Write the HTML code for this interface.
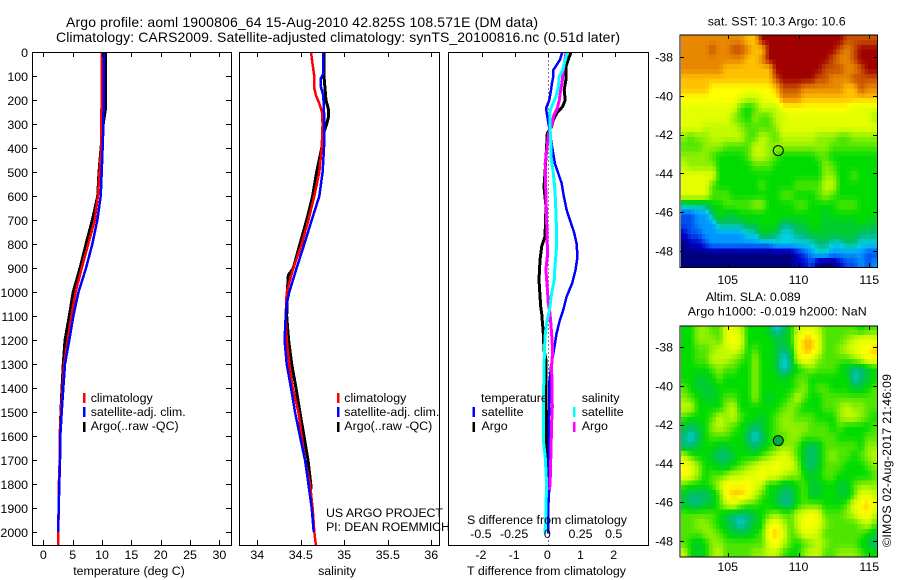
<!DOCTYPE html>
<html>
<head>
<meta charset="utf-8">
<title>Argo profile 1900806_64</title>
<style>
html,body{margin:0;padding:0;background:#fff;}
svg{display:block;font-family:"Liberation Sans",sans-serif;font-size:12.4px;fill:#000;}
.title{font-size:14px;}
</style>
</head>
<body>
<svg id="chart" width="900" height="580" viewBox="0 0 900 580" xmlns="http://www.w3.org/2000/svg">
  <defs>
    <clipPath id="clip-t"><rect x="32" y="52" width="200" height="494"/></clipPath>
    <clipPath id="clip-s"><rect x="239" y="52" width="201" height="494"/></clipPath>
    <clipPath id="clip-d"><rect x="448" y="52" width="201" height="494"/></clipPath>
    <clipPath id="clip-m1"><rect x="681" y="35" width="197" height="232"/></clipPath>
    <clipPath id="clip-m2"><rect x="681" y="326" width="197" height="231"/></clipPath>
  </defs>

  <text class="title" x="66" y="27" textLength="472">Argo profile: aoml 1900806_64 15-Aug-2010 42.825S 108.571E (DM data)</text>
  <text class="title" x="56" y="42" textLength="564">Climatology: CARS2009. Satellite-adjusted climatology: synTS_20100816.nc (0.51d later)</text>

  <g id="panel-t" clip-path="url(#clip-t)"></g>
  <g id="panel-s" clip-path="url(#clip-s)"></g>
  <g id="panel-d" clip-path="url(#clip-d)"></g>
  <g id="map1" clip-path="url(#clip-m1)"></g>
  <g id="map2" clip-path="url(#clip-m2)"></g>
  <g id="axes"></g>

  <rect x="32.5" y="52.5" width="199" height="493" fill="none" stroke="#000" shape-rendering="crispEdges"/>
  <rect x="239.5" y="52.5" width="200" height="493" fill="none" stroke="#000" shape-rendering="crispEdges"/>
  <rect x="448.5" y="52.5" width="200" height="493" fill="none" stroke="#000" shape-rendering="crispEdges"/>
  <rect x="680" y="35" width="197.5" height="232.5" fill="none" stroke="#000" shape-rendering="crispEdges"/>
  <rect x="680" y="326" width="197.5" height="231" fill="none" stroke="#000" shape-rendering="crispEdges"/>

  <text x="129" y="575" text-anchor="middle">temperature (deg C)</text>
  <text x="337" y="575" text-anchor="middle">salinity</text>
  <text x="467" y="575" textLength="159">T difference from climatology</text>
  <text x="467" y="524" textLength="160">S difference from climatology</text>

  <rect x="83" y="393" width="2.5" height="10" fill="#ff0000"/>
  <text x="90.7" y="402">climatology</text>
  <rect x="83" y="407" width="2.5" height="10" fill="#0000ff"/>
  <text x="90.7" y="416" textLength="95">satellite-adj. clim.</text>
  <rect x="83" y="422" width="2.5" height="10" fill="#000"/>
  <text x="90.7" y="430" textLength="88">Argo(..raw -QC)</text>

  <rect x="337" y="393" width="2.5" height="10" fill="#ff0000"/>
  <text x="344.3" y="402">climatology</text>
  <rect x="337" y="407" width="2.5" height="10" fill="#0000ff"/>
  <text x="344.3" y="416" textLength="95">satellite-adj. clim.</text>
  <rect x="337" y="422" width="2.5" height="10" fill="#000"/>
  <text x="344.3" y="430" textLength="88">Argo(..raw -QC)</text>

  <text x="326" y="517" textLength="117">US ARGO PROJECT</text>
  <text x="326" y="531" textLength="124">PI: DEAN ROEMMICH</text>

  <text x="481" y="402">temperature</text>
  <rect x="472.5" y="407" width="2.5" height="10" fill="#0000ff"/>
  <text x="481.5" y="416">satellite</text>
  <rect x="472.5" y="422" width="2.5" height="10" fill="#000"/>
  <text x="481.5" y="430">Argo</text>
  <text x="581.7" y="402">salinity</text>
  <rect x="573" y="407" width="2.5" height="10" fill="#00ffff"/>
  <text x="581.7" y="416">satellite</text>
  <rect x="573" y="422" width="2.5" height="10" fill="#ff00ff"/>
  <text x="581.7" y="430">Argo</text>

  <text x="707.7" y="25.7" textLength="138">sat. SST: 10.3 Argo: 10.6</text>
  <text x="705.7" y="301" textLength="95">Altim. SLA: 0.089</text>
  <text x="687.7" y="315.7" textLength="179">Argo h1000: -0.019 h2000: NaN</text>
  <text transform="translate(891,547) rotate(-90)" textLength="173">©IMOS 02-Aug-2017 21:46:09</text>
</svg>

<script>
// ---------- profile data ----------
const tempBlackDepth = [0,240,300,400,500,600,700,800,900,1000,1050,1100,1200,1300,1400,1500,1600,1670];
const tempBlack = [10.56,10.56,10.2,9.83,9.49,9.26,8.35,7.27,6.25,5.1,4.75,4.43,3.7,3.4,3.19,3.0,2.85,2.85];
const tempRedDepth = [0,120,300,400,600,700,800,900,1000,1100,1200,1300,1400,1500,1600,1700,1800,1900,2000,2060];
const tempRed = [9.95,9.95,9.9,9.85,9.3,8.75,7.67,6.54,5.5,4.77,4.15,3.55,3.3,3.0,2.79,2.79,2.66,2.62,2.55,2.55];
const tempBlueDepth = [0,300,400,500,600,700,800,900,1000,1100,1200,1300,1400,1500,1600,1700,1800,1900,2000];
const tempBlue = [10.34,10.24,10.1,9.95,9.78,9.2,8.35,7.27,6.0,5.11,4.43,3.7,3.4,3.13,2.9,2.85,2.73,2.62,2.5];

const salBlackDepth = [0,100,200,240,270,300,350,400,500,600,700,800,900,930,1000,1100,1200,1300,1400,1500,1600,1700,1820];
const salBlack = [34.767,34.767,34.79,34.82,34.817,34.797,34.751,34.74,34.682,34.636,34.567,34.49,34.414,34.356,34.345,34.338,34.36,34.395,34.445,34.49,34.537,34.583,34.621];
const salRedDepth = [0,50,100,150,180,220,250,300,400,500,600,700,800,900,950,1000,1100,1200,1300,1400,1500,1600,1700,1800,1900,2000,2060];
const salRed = [34.617,34.636,34.655,34.655,34.675,34.72,34.744,34.751,34.74,34.713,34.655,34.587,34.51,34.414,34.376,34.338,34.326,34.338,34.368,34.407,34.472,34.51,34.548,34.606,34.636,34.655,34.675];
const salBlueDepth = [0,90,110,140,180,250,300,400,500,600,700,800,900,1000,1050,1100,1200,1300,1400,1500,1600,1700,1800,1900,2000];
const salBlue = [34.759,34.759,34.728,34.728,34.759,34.767,34.77,34.767,34.751,34.713,34.625,34.54,34.452,34.368,34.338,34.326,34.314,34.338,34.387,34.433,34.49,34.548,34.587,34.625,34.648];

const dTSatDepth = [0,32,53,74,101,129,157,199,234,268,310,366,407,463,505,546,602,657,706,748,796,852,908,963,1019,1075,1116,1172,1242,1311,1381,1520,1659,1812,1895,2006];
const dTSat = [0.42,0.35,0.25,0.15,0.15,0.11,0.08,0.03,-0.07,-0.03,0.02,0.08,0.13,0.2,0.3,0.4,0.47,0.55,0.67,0.77,0.85,0.88,0.82,0.72,0.55,0.45,0.35,0.25,0.17,0.08,0.03,0.02,0.01,0.03,0,0];
const dTArgoDepth = [0,32,60,115,157,199,227,254,282,310,338,393,505,560,644,769,810,866,949,1061,1089,1172,1242,1283,1367,1450,1547,1686,1812];
const dTArgo = [0.68,0.6,0.53,0.53,0.48,0.51,0.43,0.25,0.15,0.1,-0.03,-0.05,-0.1,-0.13,-0.07,-0.1,-0.2,-0.25,-0.28,-0.23,-0.2,-0.15,-0.13,-0.07,-0.07,-0.07,-0.05,-0.05,-0.02];
const dSSatDepth = [0,32,74,101,143,185,227,247,310,366,435,505,574,630,713,824,894,949,1005,1061,1088,1130,1186,1269,1366,1450,1519,1617,1686,1797,1922,2006];
const dSSat = [0.143,0.128,0.108,0.083,0.075,0.058,0.025,0.013,0.013,0.018,0.02,0.038,0.05,0.055,0.06,0.06,0.05,0.045,0.025,0.013,0.003,-0.013,-0.025,-0.03,-0.033,-0.038,-0.038,-0.038,-0.023,-0.013,-0.018,-0.025];
const dSArgoDepth = [0,32,74,122,157,199,234,261,303,338,393,463,532,602,685,769,838,908,977,1047,1088,1172,1242,1311,1394,1478,1547,1659,1770,1825];
const dSArgo = [0.133,0.125,0.113,0.105,0.093,0.083,0.068,0.043,0.025,0.003,-0.008,-0.023,-0.02,-0.018,-0.013,-0.01,-0.005,-0.018,-0.008,0,0.013,0.025,0.033,0.025,0.028,0.03,0.025,0.02,0.015,0.01];

// ---------- tick labels ----------
const depthTicks = [0,100,200,300,400,500,600,700,800,900,1000,1100,1200,1300,1400,1500,1600,1700,1800,1900,2000];
const tempTicks = [0,5,10,15,20,25,30];
const salTicks = [34,34.5,35,35.5,36];
const dTTicks = [-2,-1,0,1,2];
const dSTicks = [-0.5,-0.25,0,0.25,0.5];
const lonTicks = [105,110,115];
const latTicks = [-38,-40,-42,-44,-46,-48];

// ---------- map data: one character per half-degree cell, colour level 0..g ----------
const levelKeys = '0123456789abcdefg';
const levelColors = ['#00007f','#0000c8','#0050f0','#0098ff','#00d0e0','#00bc78','#00cc30','#00dc00','#4ee600','#90f000','#c4fa00','#e4ff00','#ffff00','#ffc000','#e88800','#c85000','#a00000'];
const sstGrid = [
"eeeeeeeeeddggggggggggggfffff",
"eeeefeeffeddggggggggggfefggg",
"eeeeeeeeeddegggggggggfeefggg",
"eeeeeedddddddgggggggfffeefgg",
"dddddddddddddfgggggffeeeffff",
"ddddcccccccccdfffeeeeeeddfee",
"ccccccccbaabcceeeddddddddddd",
"bbbbbbbb878aaaccccccccccbbbb",
"bbbbbbb987988aabbbbbbbbbbbb9",
"bbbaaaaa988889bbbbbbbbbbbbbb",
"9899aaaaa88a98aaaaa999889999",
"8889998888aa9999999998888888",
"9999877778aa9877777887777777",
"a999977777888777777798777777",
"bbbbb77777777777777799778777",
"bbbb8777777877778888aa777777",
"bbbb888777777788777898777777",
"5555778888997777887777888777",
"2233576677777777777767777777",
"2233355556677755667766666766",
"1223333334466544556666666555",
"0112333333333444444554455444",
"0000000000000000123443333322",
"0000000000000000112000122323"
];
const slaGrid = [
"7799 88bb a777 6457 abba 8888 8788",
"7799 98bc b777 7667 bddb 8889 abbb",
"7788 9aab a787 7656 bddb 889a bccd",
"7788 aaa9 8797 7645 acb9 8888 9acc",
"7777 8988 7797 7645 7898 8876 5567",
"7766 7877 7797 7767 8877 7777 4567",
"8766 6777 7797 7777 8978 8777 6678",
"9876 6788 7797 6778 a877 8888 8888",
"aa77 779a 7777 7789 8777 889a 9988",
"8777 8a9a 8776 7899 8887 779a a987",
"6567 9a98 7656 7899 9988 8787 7778",
"5457 8887 7545 7889 9888 8877 7788",
"5567 7667 7656 7899 8656 8888 8799",
"a877 6556 7778 9aba 8656 8988 789a",
"cb97 7667 89ab bcbb 9656 8887 7789",
"cb97 889a abbc bba9 9767 8877 7778",
"8777 8acc ccba 7766 7866 7766 8999",
"6555 68cd dca8 7655 7866 7766 8bba",
"6556 68ab 9887 7655 7888 7778 bcdb",
"8888 8765 5567 8988 abcb 8889 acca",
"8899 8765 4567 bca8 accb 9888 89a8",
"8889 9876 6678 cdb8 9bba 8888 8876",
"8767 9988 8888 bca8 789a 9888 8765",
"a767 9a88 8899 aa87 79aa 8899 9877"
];
const floatLon = [108.571];
const floatLat = [-42.825];
const gridLon0 = [101.67];
const gridLat0 = [-36.87];
const gridStep = [0.5];

// ---------- axis functions ----------
const NS = 'http://www.w3.org/2000/svg';
const yP = p => 52.3 + p * 0.2398;
const xT = t => 43.3 + t * 5.87;
const xS = s => 257.3 + (s - 34) * 87;
const xD = d => 548.3 + d * 33.2;
const xDS = s => 548.3 + s * 4 * 33.2;
const xLon = lon => 727.7 + (lon - 105) * 14.16;
const yLat1 = lat => 57 + (-38 - lat) * 19.4;
const yLat2 = lat => 347 + (-38 - lat) * 19.4;

const axes = document.getElementById('axes');

function make(tag, parent, props) {
  const el = document.createElementNS(NS, tag);
  for (const k in props) el.setAttribute(k, props[k]);
  parent.appendChild(el);
  return el;
}

function tick(x1, y1, x2, y2, name) {
  const el = make('line', axes, {x1: x1, y1: y1, x2: x2, y2: y2, stroke: '#000', 'shape-rendering': 'crispEdges'});
  
  
}

function label(x, y, anchor, str, name) {
  const el = make('text', axes, {x: x, y: y, 'text-anchor': anchor});
  el.textContent = str;
  
  
}

function profile(parentId, depths, values, xFn, color, width, name) {
  const parent = document.getElementById(parentId);
  const pts = values.map((v, i) => xFn(v).toFixed(1) + ',' + yP(depths[i]).toFixed(1)).join(' ');
  const el = make('polyline', parent, {points: pts, fill: 'none', stroke: color, 'stroke-width': width, 'shape-rendering': 'crispEdges', 'stroke-linejoin': 'round'});
  
  
}

function levelToColor(v) {
  const i = Math.min(levelColors.length - 2, Math.floor(v));
  const f = v - i;
  const a = levelColors[i], b = levelColors[i + 1];
  const ch = p => {
    const pa = parseInt(a.substr(p, 2), 16), pb = parseInt(b.substr(p, 2), 16);
    return Math.round(pa + (pb - pa) * f);
  };
  return 'rgb(' + ch(1) + ',' + ch(3) + ',' + ch(5) + ')';
}

function heatmap(parentId, grid, yFn, prefix) {
  const parent = document.getElementById(parentId);
  const rows = grid.map(r => r.replace(/ /g, ''));
  const nR = rows.length, nC = rows[0].length;
  const step = gridStep[0] / 2;
  const lvl = (r, c) => levelKeys.indexOf(rows[Math.max(0, Math.min(nR - 1, r))][Math.max(0, Math.min(nC - 1, c))]);
  for (let sr = 0; sr < nR * 2; sr++) {
    for (let sc = 0; sc < nC * 2; sc++) {
      const fr = (sr + 0.5) / 2 - 0.5, fc = (sc + 0.5) / 2 - 0.5;
      const r0 = Math.floor(fr), c0 = Math.floor(fc);
      const wr = fr - r0, wc = fc - c0;
      const v = (lvl(r0, c0) * (1 - wc) + lvl(r0, c0 + 1) * wc) * (1 - wr) + (lvl(r0 + 1, c0) * (1 - wc) + lvl(r0 + 1, c0 + 1) * wc) * wr;
      const x0 = xLon(gridLon0[0] + sc * step), x1 = xLon(gridLon0[0] + (sc + 1) * step);
      const y0 = yFn(gridLat0[0] - sr * step), y1 = yFn(gridLat0[0] - (sr + 1) * step);
      const cell = make('rect', parent, {x: x0.toFixed(2), y: y0.toFixed(2), width: (x1 - x0 + 0.4).toFixed(2), height: (y1 - y0 + 0.4).toFixed(2), fill: levelToColor(v), 'shape-rendering': 'crispEdges'});
      
      
    }
  }
}

// ---------- series ----------
profile('panel-t', tempBlackDepth, tempBlack, xT, '#000', 3, 'temperature-argo-line');
profile('panel-t', tempRedDepth, tempRed, xT, '#ff0000', 2.5, 'temperature-climatology-line');
profile('panel-t', tempBlueDepth, tempBlue, xT, '#0000ff', 2.5, 'temperature-satellite-line');

profile('panel-s', salBlackDepth, salBlack, xS, '#000', 3, 'salinity-argo-line');
profile('panel-s', salRedDepth, salRed, xS, '#ff0000', 2.5, 'salinity-climatology-line');
profile('panel-s', salBlueDepth, salBlue, xS, '#0000ff', 2.5, 'salinity-satellite-line');

const zeroLine = make('line', document.getElementById('panel-d'), {x1: xD(0), y1: yP(0), x2: xD(0), y2: yP(2060), stroke: '#000', 'stroke-dasharray': '1 3', 'shape-rendering': 'crispEdges'});



profile('panel-d', dTArgoDepth, dTArgo, xD, '#000', 3, 'difference-t-argo-line');
profile('panel-d', dTSatDepth, dTSat, xD, '#0000ff', 2.5, 'difference-t-satellite-line');
profile('panel-d', dSArgoDepth, dSArgo, xDS, '#ff00ff', 3, 'difference-s-argo-line');
profile('panel-d', dSSatDepth, dSSat, xDS, '#00ffff', 3, 'difference-s-satellite-line');

// ---------- maps ----------
heatmap('map1', sstGrid, yLat1, 'sst');
heatmap('map2', slaGrid, yLat2, 'sla');

const m1Marker = make('circle', axes, {cx: xLon(floatLon[0]), cy: yLat1(floatLat[0]), r: 5, fill: 'none', stroke: '#000', 'stroke-width': 1});


const m2Marker = make('circle', axes, {cx: xLon(floatLon[0]), cy: yLat2(floatLat[0]), r: 5, fill: '#00b040', stroke: '#000', 'stroke-width': 1});



// ---------- ticks ----------
depthTicks.forEach(p => {
  const y = Math.round(yP(p)) + 0.5;
  if (p > 0) {
    tick(32, y, 37, y, 'depth-tick-left');
    tick(226, y, 231, y, 'depth-tick-right');
  }
  label(28, y + 4.5, 'end', String(p), 'depth-tick-label');
});
tempTicks.forEach(t => {
  const x = Math.round(xT(t)) + 0.5;
  tick(x, 52, x, 57, 'temperature-tick-top');
  tick(x, 540, x, 545, 'temperature-tick-bottom');
  label(xT(t), 559, 'middle', String(t), 'temperature-tick-label');
});
salTicks.forEach(s => {
  const x = Math.round(xS(s)) + 0.5;
  tick(x, 52, x, 57, 'salinity-tick-top');
  tick(x, 540, x, 545, 'salinity-tick-bottom');
  label(xS(s), 559, 'middle', String(s), 'salinity-tick-label');
});
dTTicks.forEach(d => {
  const x = Math.round(xD(d)) + 0.5;
  tick(x, 52, x, 57, 'difference-tick-top');
  label(xD(d) - 1, 559, 'middle', String(d), 'difference-t-tick-label');
});
dSTicks.forEach(s => {
  label(xDS(s) - 1, 538, 'middle', String(s), 'difference-s-tick-label');
});
lonTicks.forEach(lon => {
  const x = Math.round(xLon(lon)) + 0.5;
  tick(x, 35, x, 39, 'sst-lon-tick-top');
  tick(x, 263, x, 267, 'sst-lon-tick-bottom');
  label(xLon(lon), 284, 'middle', String(lon), 'sst-lon-tick-label');
  tick(x, 326, x, 330, 'sla-lon-tick-top');
  tick(x, 553, x, 557, 'sla-lon-tick-bottom');
  label(xLon(lon), 571, 'middle', String(lon), 'sla-lon-tick-label');
});
latTicks.forEach(lat => {
  const y1 = Math.round(yLat1(lat)) + 0.5;
  tick(680, y1, 684, y1, 'sst-lat-tick-left');
  tick(873, y1, 877, y1, 'sst-lat-tick-right');
  label(673, yLat1(lat) + 4.5, 'end', String(lat), 'sst-lat-tick-label');
  const y2 = Math.round(yLat2(lat)) + 0.5;
  tick(680, y2, 684, y2, 'sla-lat-tick-left');
  tick(873, y2, 877, y2, 'sla-lat-tick-right');
  label(673, yLat2(lat) + 4.5, 'end', String(lat), 'sla-lat-tick-label');
});
</script>
</body>
</html>
